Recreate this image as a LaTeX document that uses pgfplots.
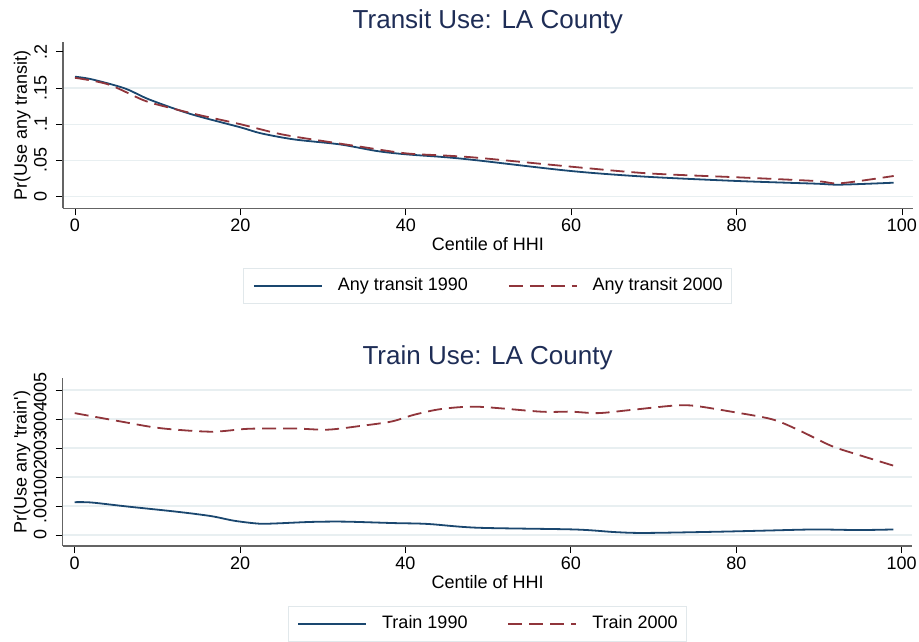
\documentclass[border=0pt]{standalone}
\usepackage{pgfplots}
\pgfplotsset{compat=1.18}
\usepackage{fontspec}
\setmainfont{Liberation Sans}

\definecolor{s2navy}{RGB}{26,71,111}
\definecolor{s2maroon}{RGB}{144,53,59}
\definecolor{titlecol}{RGB}{30,45,86}
\definecolor{gridcol}{RGB}{232,239,241}
\definecolor{axiscol}{RGB}{100,100,100}
\definecolor{legcol}{RGB}{225,232,235}

\newcommand{\lbl}{\fontsize{18pt}{21pt}\selectfont}

\pgfplotsset{
  statastyle/.style={
    scale only axis, width=849.7pt,
    xmin=-1.45, xmax=101.3,
    axis x line*=bottom, axis y line*=left,
    axis line style={axiscol, line width=1.2pt},
    tick align=outside, major tick length=7pt,
    tick style={black, line width=0.8pt},
    xtick={0,20,40,60,80,100},
    xticklabels={0,20,40,60,80,100},
    ymajorgrids, grid style={gridcol, line width=1.2pt},
    scaled y ticks=false,
    tick label style={font=\lbl, inner sep=0pt},
    xticklabel style={anchor=base, yshift=-16pt},
    % rotated frame: yshift moves the label to the left
    yticklabel style={rotate=90, anchor=south, yshift=9pt},
    label style={font=\lbl},
    xlabel={Centile of HHI},
    xlabel style={at={(axis description cs:0.5,0)}, anchor=base, yshift=-42pt},
    ylabel style={at={(axis description cs:0,0.5)}, anchor=base, yshift=36pt},
    title style={font=\fontsize{26pt}{30pt}\selectfont, text=titlecol,
      at={(axis description cs:0.5,1)}, anchor=base, yshift=7.5pt},
    legend columns=2,
    legend style={at={(axis description cs:0.5,0)}, anchor=north, yshift=-60pt,
      draw=legcol, line width=1pt, inner xsep=9pt, inner ysep=9pt, font=\lbl,
      cells={anchor=west},
      nodes={inner sep=0pt, text height=13pt, text depth=4pt},
      /tikz/every odd column/.style={column sep=15pt},
      /tikz/every even column/.style={column sep=40pt}},
    legend image code/.code={\draw[#1] (0pt,0pt) -- (68pt,0pt);},
  },
  solidline/.style={s2navy, line width=1.8pt, smooth},
  dashline/.style={s2maroon, line width=1.8pt, dash pattern=on 14pt off 7pt, smooth},
}

\begin{document}
\begin{tikzpicture}
\useasboundingbox (0,0) rectangle (919pt,641pt);

% top panel: any transit
\begin{axis}[statastyle,
  at={(63pt,432.7pt)}, anchor=south west, height=166.6pt,
  ymin=-0.016, ymax=0.2138,
  ytick={0,0.05,0.1,0.15}, yticklabels={0,.05,.1,.15},
  extra y ticks={0.2}, extra y tick labels={.2},
  extra y tick style={grid=none},
  ylabel={Pr(Use any transit)},
  title={Transit Use: LA County},
]
\addplot[solidline] coordinates {
  (0,0.1655) (2,0.162) (6,0.1495) (9,0.134) (14,0.114) (20,0.0957)
  (22.5,0.0874) (26.5,0.079) (32,0.0722) (36.5,0.063) (40,0.0585)
  (45,0.0543) (49,0.0497) (60,0.0354) (69,0.0276) (80,0.0217)
  (89.5,0.018) (92.5,0.0166) (99,0.0193)
};
\addlegendentry{Any transit 1990}
\addplot[dashline] coordinates {
  (0,0.164) (4,0.155) (8.3,0.133) (11,0.124) (15,0.1127) (20,0.100)
  (25,0.086) (30.5,0.0759) (34.5,0.069) (40,0.0598) (45,0.0566)
  (49,0.0534) (60,0.0414) (69.3,0.0322) (80,0.0268) (89.5,0.0217)
  (92.5,0.0185) (99,0.0286)
};
\addlegendentry{Any transit 2000}
\end{axis}

% bottom panel: train
\begin{axis}[statastyle,
  at={(62.7pt,95pt)}, anchor=south west, height=167.7pt,
  ymin=-0.00038, ymax=0.0054,
  ytick={0,0.001,0.002,0.003,0.004,0.005},
  yticklabels={0,.001,.002,.003,.004,.005},
  ylabel={Pr(Use any \textquotesingle train\textquotesingle)},
  title={Train Use: LA County},
]
\addplot[solidline] coordinates {
  (0,0.00113) (2,0.00112) (6.4,0.00098) (12.4,0.00080) (16.5,0.00065)
  (19.3,0.00049) (22.3,0.00039) (24.5,0.00040) (28.6,0.00045)
  (32.6,0.00046) (38.6,0.00041) (42.7,0.00038) (48.7,0.00025)
  (60.4,0.00019) (65.3,0.00010) (68.9,0.00007) (77.4,0.00011)
  (83.4,0.00015) (89.5,0.00019) (94.8,0.00017) (99,0.00019)
};
\addlegendentry{Train 1990}
\addplot[dashline] coordinates {
  (0,0.0042) (5.6,0.00391) (10.4,0.00368) (16.5,0.00356) (21,0.00366)
  (26.5,0.00367) (30.6,0.00363) (34.6,0.00376) (38.3,0.00391)
  (41,0.00414) (44.3,0.00434) (48.7,0.00442) (56.4,0.00425)
  (60,0.00425) (63.3,0.0042) (67.3,0.00431) (72.5,0.00446)
  (75,0.00445) (79.4,0.00425) (84.3,0.00399) (87.5,0.00362)
  (91.5,0.00307) (94.8,0.00276) (99,0.00239)
};
\addlegendentry{Train 2000}
\end{axis}
\end{tikzpicture}
\end{document}
